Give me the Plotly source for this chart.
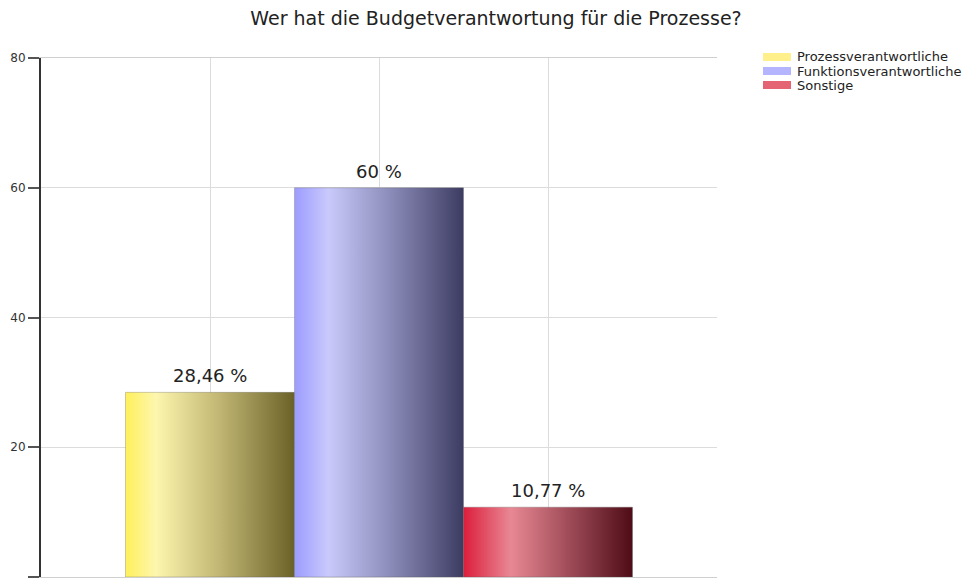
import plotly.graph_objects as go

# Survey result: who holds budget responsibility for processes
categories = ["Prozessverantwortliche", "Funktionsverantwortliche", "Sonstige"]
values = [28.46, 60.0, 10.77]
positions = [1, 2, 3]
y_ticks = [0, 20, 40, 60, 80]

# horizontal gradient per bar (left -> right) and flat legend swatch colour
gradients = [
    [[0.0, "#fff05a"], [0.18, "#fdf6ae"], [0.55, "#c2b774"], [1.0, "#6a6128"]],
    [[0.0, "#9c9cff"], [0.2, "#c9c9fb"], [0.55, "#8f8fbd"], [1.0, "#3c3c62"]],
    [[0.0, "#dc1e3c"], [0.28, "#e88894"], [0.6, "#a4505c"], [1.0, "#4e0c16"]],
]
swatches = ["#fff08c", "#b4b4ff", "#e46474"]

FONT = "DejaVu Sans, Verdana, sans-serif"
W, H = 975, 580


def fmt_de(v):
    if float(v).is_integer():
        return f"{int(v)} %"
    return f"{v:.2f}".replace(".", ",") + " %"


fig = go.Figure()
half = 0.5
for pos, val, grad in zip(positions, values, gradients):
    x0, x1 = pos - half, pos + half
    fig.add_trace(go.Scatter(
        x=[x0, x1, x1, x0, x0],
        y=[0, 0, val, val, 0],
        mode="lines",
        line=dict(width=0.6, color="rgba(90,90,90,0.5)"),
        fill="toself",
        fillgradient=dict(type="horizontal", colorscale=grad),
        showlegend=False,
        hoverinfo="skip",
    ))
    fig.add_annotation(
        x=pos, y=val, text=fmt_de(val), showarrow=False,
        yanchor="bottom", yshift=4,
        font=dict(family=FONT, size=18, color="#222"),
    )

# compact legend drawn in page coordinates
legend_x0, legend_top, row_h = 763, 57, 14
for i, (name, col) in enumerate(zip(categories, swatches)):
    yc = legend_top + i * row_h
    fig.add_shape(
        type="rect", xref="paper", yref="paper",
        x0=(legend_x0 - 41) / 676, x1=(legend_x0 + 28 - 41) / 676,
        y0=(577 - (yc + 4)) / 519, y1=(577 - (yc - 4)) / 519,
        fillcolor=col, line=dict(width=0),
    )
    fig.add_annotation(
        xref="paper", yref="paper",
        x=(legend_x0 + 32 - 41) / 676, y=(577 - yc) / 519,
        xanchor="left", yanchor="middle", showarrow=False,
        text=name, font=dict(family=FONT, size=13, color="#222"),
    )

fig.update_layout(
    width=W, height=H,
    margin=dict(l=41, r=258, t=58, b=3),
    paper_bgcolor="white", plot_bgcolor="white",
    title=dict(
        text="Wer hat die Budgetverantwortung für die Prozesse?",
        x=496 / W, xref="container", xanchor="center",
        y=1 - 18 / H, yref="container", yanchor="middle",
        font=dict(family=FONT, size=19, color="#222"),
    ),
    showlegend=False,
    xaxis=dict(
        range=[0, 4], tickvals=[1, 2, 3, 4], showticklabels=False,
        showgrid=True, gridcolor="#dcdcdc", gridwidth=1,
        showline=True, linecolor="#cfcfcf", linewidth=1, mirror=True,
        zeroline=False, ticks="",
    ),
    yaxis=dict(
        range=[0, 80], tickvals=y_ticks,
        showgrid=True, gridcolor="#dcdcdc", gridwidth=1,
        showline=True, linecolor="#333", linewidth=2,
        ticks="outside", ticklen=11, tickcolor="#555", tickwidth=2,
        zeroline=False,
        tickfont=dict(family=FONT, size=12, color="#333"),
    ),
)

fig.write_html("out.html")
